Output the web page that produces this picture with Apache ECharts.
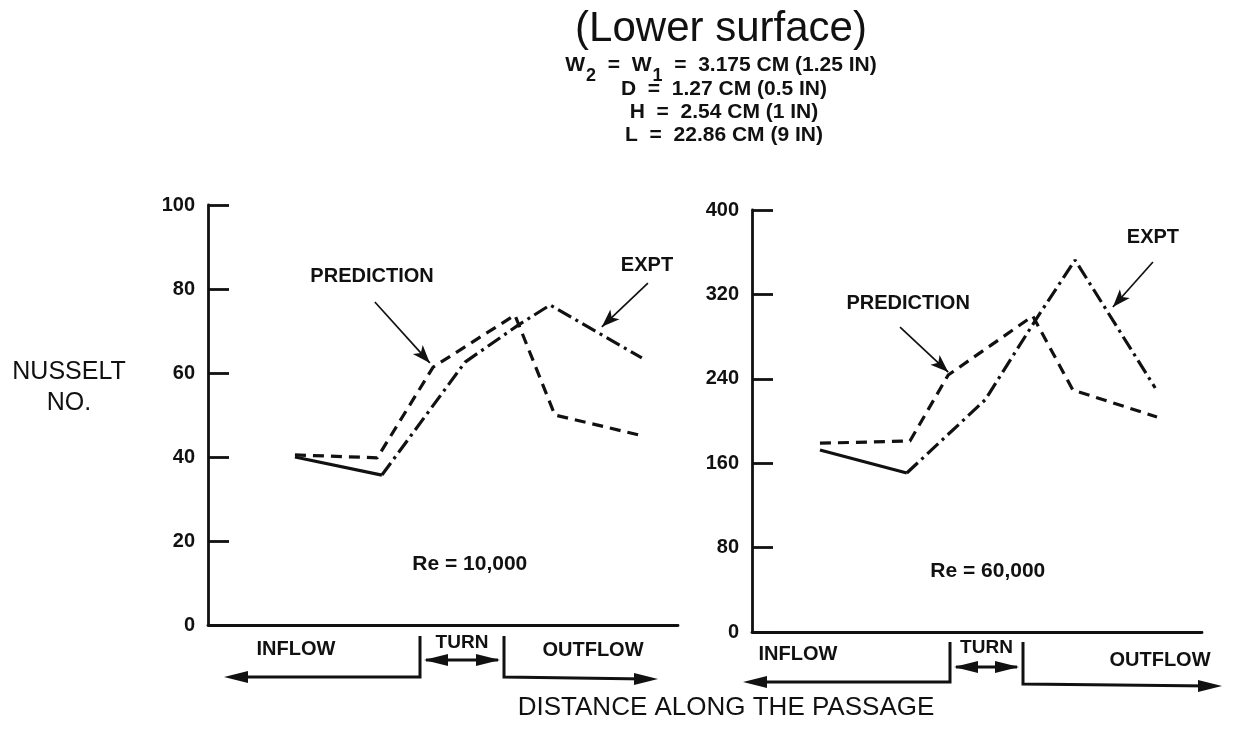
<!DOCTYPE html>
<html>
<head>
<meta charset="utf-8">
<script src="https://cdn.jsdelivr.net/npm/echarts@6/dist/echarts.min.js"></script>
<style>
  html, body { margin: 0; padding: 0; background: #fff; }
  #chart { width: 1258px; height: 736px; }
</style>
</head>
<body>
<div id="chart"></div>
<script>
// ---- Data ----
// Left panel: Re = 10,000 (position along passage, 0..100 of axis length)
const posL_pred = [18.5, 36.0, 47.9, 65.3, 73.8, 91.9];
const nuL_pred  = [40.5, 39.8, 61.4, 73.8, 50.0, 45.2];
const posL_expt = [18.5, 37.0, 54.7, 66.0, 72.8, 92.3];
const nuL_expt  = [40.0, 35.7, 62.6, 71.4, 76.2, 63.6];
// Right panel: Re = 60,000
const posR_pred = [15.1, 35.1, 43.6, 62.4, 71.3, 90.0];
const nuR_pred  = [179, 181, 243.6, 299.5, 229.4, 203.8];
const posR_expt = [15.1, 34.4, 51.8, 63.3, 71.8, 89.6];
const nuR_expt  = [172.5, 150.7, 220, 297.6, 352.6, 231.3];
// Tick settings
const yTicksL = { min: 0, max: 100, interval: 20 };
const yTicksR = { min: 0, max: 400, interval: 80 };

const titleText = '(Lower surface)';
const paramLines = ['D  =  1.27 CM (0.5 IN)', 'H  =  2.54 CM (1 IN)', 'L  =  22.86 CM (9 IN)'];

function pairs(xs, ys, from, to) {
  const out = [];
  for (let i = from; i <= to; i++) out.push([xs[i], ys[i]]);
  return out;
}

const FONT = '"Liberation Sans", Arial, Helvetica, sans-serif';
const BLACK = '#111';
const LBL = 20;

// Grid geometry
const GL = { left: 208, top: 205, width: 470, height: 420 };
const GR = { left: 752, top: 210, width: 450, height: 422 };

function yAxisCfg(idx, ticks) {
  return {
    type: 'value', gridIndex: idx, min: ticks.min, max: ticks.max, interval: ticks.interval,
    axisLine: { show: true, lineStyle: { color: BLACK, width: 2.8 } },
    axisTick: { show: true, inside: true, length: 21, lineStyle: { color: BLACK, width: 2.8 } },
    axisLabel: { color: BLACK, fontSize: 20, fontFamily: FONT, fontWeight: 'bold', margin: 13 },
    splitLine: { show: false }
  };
}
function xAxisCfg(idx) {
  return {
    type: 'value', gridIndex: idx, min: 0, max: 100,
    axisLine: { show: true, onZero: false, lineStyle: { color: BLACK, width: 2.8 } },
    axisTick: { show: false }, axisLabel: { show: false }, splitLine: { show: false }
  };
}

const lineW = 3.2;
const predStyle = { color: BLACK, width: lineW, type: [11, 7] };
const exptDashDot = { color: BLACK, width: lineW, type: [15, 5, 3, 5] };
const exptSolid = { color: BLACK, width: lineW, type: 'solid' };

function labelPoint(x, y, text, size) {
  return {
    coord: [x, y], value: text, symbol: 'rect', symbolSize: 1,
    itemStyle: { color: 'rgba(0,0,0,0)' },
    label: { show: true, position: 'inside', formatter: text, color: BLACK,
      fontSize: size || LBL, fontFamily: FONT, fontWeight: 'bold' }
  };
}
function arrow(x1, y1, x2, y2) {
  return [{ coord: [x1, y1] }, { coord: [x2, y2] }];
}

function panelSeries(idx, posP, nuP, posE, nuE, ann) {
  return [
    {
      type: 'line', xAxisIndex: idx, yAxisIndex: idx, data: pairs(posP, nuP, 0, posP.length - 1),
      showSymbol: false, symbol: 'none', lineStyle: predStyle,
      markLine: {
        silent: true, symbol: ['none', 'arrow'], symbolSize: [10, 18],
        lineStyle: { color: BLACK, width: 1.7, type: 'solid' }, label: { show: false },
        data: ann.arrows
      },
      markPoint: { silent: true, data: ann.labels }
    },
    {
      type: 'line', xAxisIndex: idx, yAxisIndex: idx, data: pairs(posE, nuE, 0, 1),
      showSymbol: false, symbol: 'none', lineStyle: exptSolid
    },
    {
      type: 'line', xAxisIndex: idx, yAxisIndex: idx, data: pairs(posE, nuE, 1, posE.length - 1),
      showSymbol: false, symbol: 'none', lineStyle: exptDashDot
    }
  ];
}

const annL = {
  arrows: [arrow(35.5, 76.9, 47.2, 62.4), arrow(93.6, 81.4, 83.8, 71.0)],
  labels: [labelPoint(34.9, 82.9, 'PREDICTION'), labelPoint(93.4, 85.7, 'EXPT'), labelPoint(55.7, 14.5, 'Re = 10,000', 21)]
};
const annR = {
  arrows: [arrow(32.9, 289, 43.6, 246.4), arrow(89.1, 350.7, 80.2, 308)],
  labels: [labelPoint(34.7, 311.8, 'PREDICTION'), labelPoint(89.1, 373.5, 'EXPT'), labelPoint(52.4, 57.8, 'Re = 60,000', 21)]
};

// ---- Decorative flow-direction brackets under the x axes ----
function headL(x, y) { return { type: 'polygon', shape: { points: [[x, y], [x + 24, y - 6], [x + 24, y + 6]] }, style: { fill: BLACK } }; }
function headR(x, y) { return { type: 'polygon', shape: { points: [[x, y], [x - 24, y - 6], [x - 24, y + 6]] }, style: { fill: BLACK } }; }
function poly(pts) { return { type: 'polyline', shape: { points: pts }, style: { stroke: BLACK, lineWidth: 3, fill: null } }; }
function txt(x, y, t, size, weight) {
  return { type: 'text', x: x, y: y, style: { text: t, fill: BLACK, fontSize: size, fontFamily: FONT,
    fontWeight: weight || 'bold', align: 'center', verticalAlign: 'middle' } };
}
function flowBrackets(o) {
  return [
    poly([[o.v1, o.top], [o.v1, o.yIn], [o.inEnd + 12, o.yIn]]), headL(o.inEnd, o.yIn),
    poly([[o.v1 + 6, o.yTurn], [o.v2 - 6, o.yTurn]]), headL(o.v1 + 4, o.yTurn), headR(o.v2 - 4, o.yTurn),
    poly([[o.v2, o.top], [o.v2, o.yOut], [o.outEnd - 12, o.yOut + 2]]), headR(o.outEnd, o.yOut + 2),
    txt(o.inLbl, o.lblY, 'INFLOW', LBL), txt((o.v1 + o.v2) / 2, o.lblY - 6, 'TURN', LBL - 1),
    txt(o.outLbl, o.lblY + o.outDy, 'OUTFLOW', LBL)
  ];
}

const graphics = [].concat(
  flowBrackets({ v1: 420, v2: 504, top: 636, yIn: 677, yTurn: 660, yOut: 677, inEnd: 224, outEnd: 658,
    inLbl: 296, outLbl: 593, lblY: 649, outDy: 1 }),
  flowBrackets({ v1: 950, v2: 1023, top: 642, yIn: 682, yTurn: 667, yOut: 684, inEnd: 743, outEnd: 1222,
    inLbl: 798, outLbl: 1160, lblY: 654, outDy: 6 }),
  [
    txt(721, 29, titleText, 42, 'normal'),
    {
      type: 'text', x: 721, y: 66,
      style: {
        text: '{a|W}{s|2}{a|  =  W}{s|1}{a|  =  3.175 CM (1.25 IN)}',
        align: 'center', verticalAlign: 'middle', fill: BLACK, fontFamily: FONT,
        rich: {
          a: { fontSize: 21, fontFamily: FONT, fontWeight: 'bold', fill: BLACK, verticalAlign: 'top', lineHeight: 23 },
          s: { fontSize: 18, fontFamily: FONT, fontWeight: 'bold', fill: BLACK, verticalAlign: 'top', lineHeight: 17, padding: [13, 0, 0, 1] }
        }
      }
    },
    txt(724, 89, paramLines[0], 21, 'bold'),
    txt(724, 112, paramLines[1], 21, 'bold'),
    txt(724, 135, paramLines[2], 21, 'bold'),
    txt(69, 372, 'NUSSELT', 25, 'normal'),
    txt(69, 403, 'NO.', 25, 'normal'),
    txt(726, 708, 'DISTANCE ALONG THE PASSAGE', 26, 'normal')
  ]
);

const chart = echarts.init(document.getElementById('chart'), null, { renderer: 'canvas' });
chart.setOption({
  animation: false,
  backgroundColor: '#fff',
  grid: [
    { left: GL.left, top: GL.top, width: GL.width, height: GL.height },
    { left: GR.left, top: GR.top, width: GR.width, height: GR.height }
  ],
  xAxis: [xAxisCfg(0), xAxisCfg(1)],
  yAxis: [yAxisCfg(0, yTicksL), yAxisCfg(1, yTicksR)],
  series: [].concat(
    panelSeries(0, posL_pred, nuL_pred, posL_expt, nuL_expt, annL),
    panelSeries(1, posR_pred, nuR_pred, posR_expt, nuR_expt, annR)
  ),
  graphic: graphics
});
</script>
</body>
</html>
